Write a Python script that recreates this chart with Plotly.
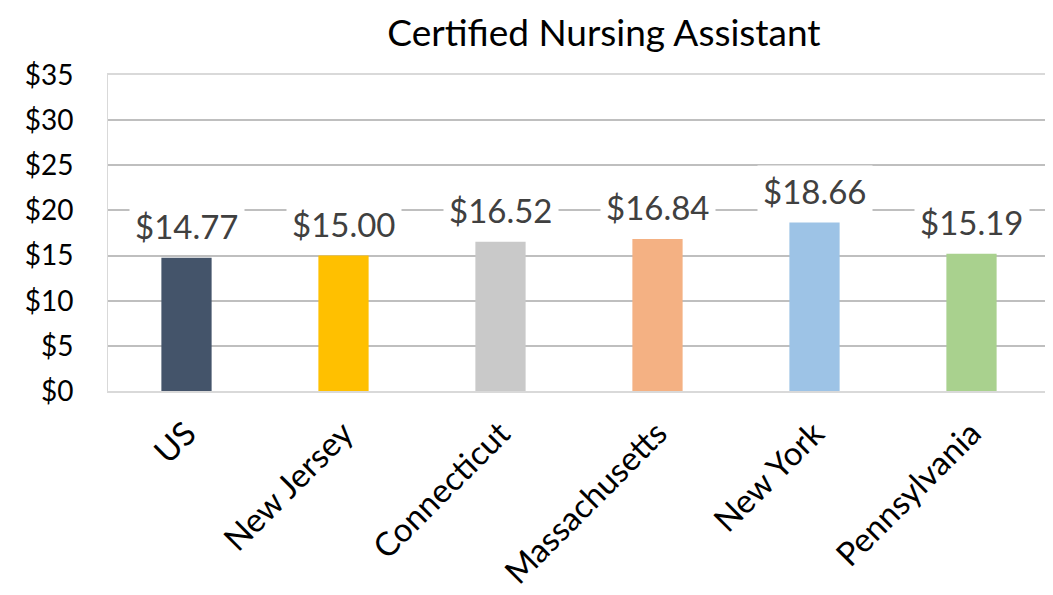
import plotly.graph_objects as go

categories = ["US", "New Jersey", "Connecticut", "Massachusetts", "New York", "Pennsylvania"]
values = [14.77, 15.00, 16.52, 16.84, 18.66, 15.19]
colors = ["#44546A", "#FFC000", "#C9C9C9", "#F4B183", "#9DC3E6", "#A9D18E"]
title = "Certified Nursing Assistant"

FONT = "Lato"

fig = go.Figure(go.Bar(
    x=categories, y=values, marker=dict(color=colors, line=dict(width=0)),
    width=0.32, hoverinfo="skip",
))

for c, v in zip(categories, values):
    fig.add_annotation(
        x=c, y=v, xref="x", yref="y", text=f"${v:.2f}", showarrow=False,
        yanchor="bottom", yshift=6, bgcolor="white", borderpad=5,
        font=dict(family=FONT, size=33, color="#404040"),
    )

# page body has an 8px margin; size the figure to fit the 1053x595 window
fig.update_layout(
    width=1045, height=587,
    margin=dict(l=100, r=3, t=67, b=204),
    paper_bgcolor="white", plot_bgcolor="white",
    showlegend=False,
    title=dict(text=title, x=596 / 1045, xanchor="center", y=1 - 25 / 587, yanchor="middle",
               font=dict(family=FONT, size=37, color="black")),
    xaxis=dict(
        tickangle=-45, tickfont=dict(family=FONT, size=33, color="black"),
        showline=True, linecolor="#D9D9D9", linewidth=2, mirror=True,
        ticks="", showgrid=False, automargin=False, ticklabelstandoff=8,
    ),
    yaxis=dict(
        range=[0, 35], dtick=5, tickprefix="$",
        tickfont=dict(family=FONT, size=28, color="black"),
        showgrid=True, gridcolor="#BFBFBF", gridwidth=1.5,
        showline=True, linecolor="#D9D9D9", linewidth=1, mirror=True,
        zeroline=False, ticks="", ticklen=0, automargin=False,
        ticklabelstandoff=28,
    ),
)

fig.write_html("out.html")
